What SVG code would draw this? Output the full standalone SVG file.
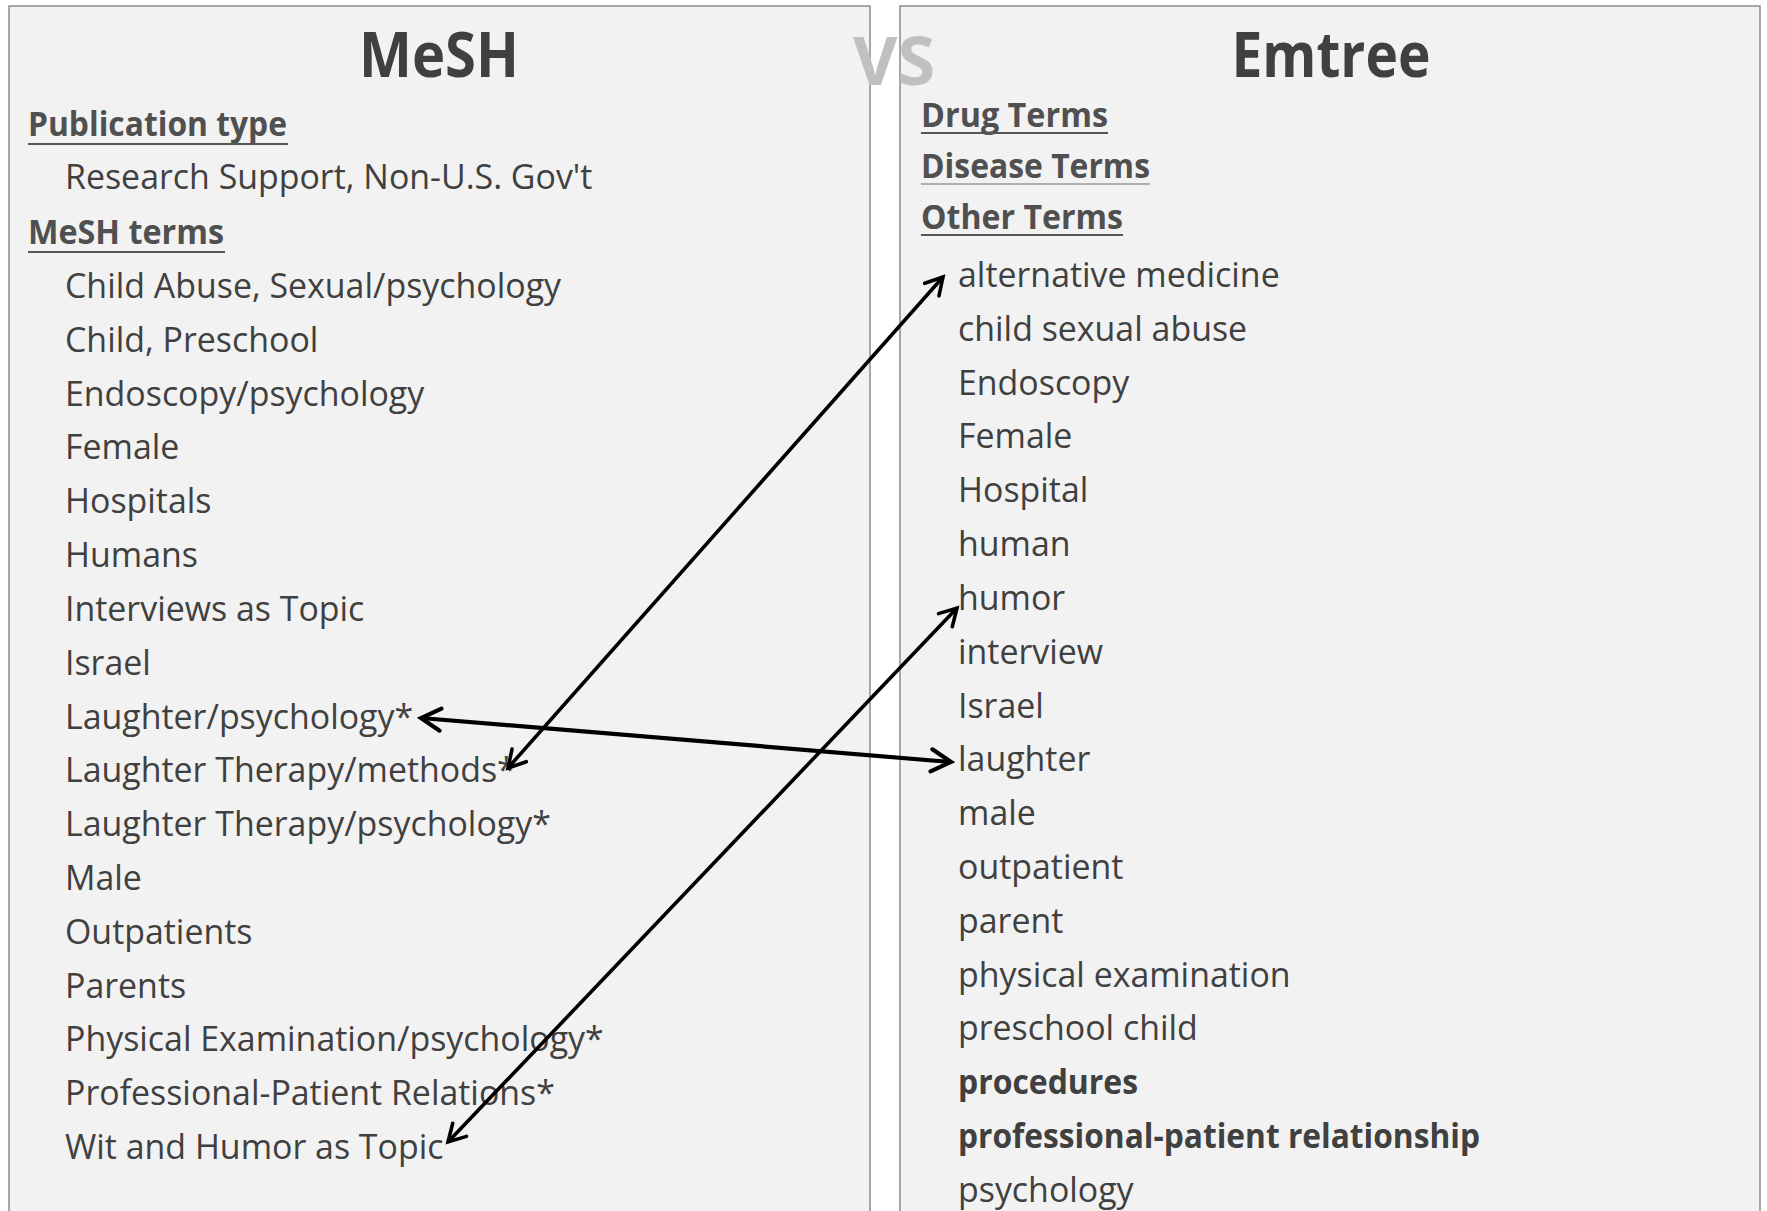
<svg xmlns="http://www.w3.org/2000/svg" width="1767" height="1211" viewBox="0 0 1767 1211">
<defs>
<style>
.panel{fill:#f2f2f2;stroke:#8c8c8c;stroke-width:1.5}
.title{font-family:"Open Sans","Liberation Sans",sans-serif;font-weight:700;font-size:62px;fill:#404040}
.vs{font-family:"Open Sans","Liberation Sans",sans-serif;font-weight:700;font-size:66px;fill:#c0c0c0}
.head{font-family:"Open Sans","Liberation Sans",sans-serif;font-weight:700;font-size:34px;fill:#505050}
.item{font-family:"Open Sans","Liberation Sans",sans-serif;font-size:33.9px;fill:#404040}
.bold{font-weight:700}
.ul{stroke:#555;stroke-width:2}
.conn{fill:none;stroke:#000;stroke-width:3.6;marker-start:url(#ah);marker-end:url(#ah)}
</style>
<marker id="ah" viewBox="0 0 12 12" refX="10" refY="6" markerWidth="6.6" markerHeight="6.6" markerUnits="strokeWidth" orient="auto-start-reverse">
<path d="M1.5,1.2 L10,6 L1.5,10.8" fill="none" stroke="#000" stroke-width="1.8" stroke-linecap="round" stroke-linejoin="miter"/>
</marker>
</defs>
<g id="mesh-panel">
<rect class="panel" x="9" y="6" width="861" height="1220"/>
<text class="title" x="439" y="77" text-anchor="middle" textLength="160" lengthAdjust="spacingAndGlyphs">MeSH</text>
<text class="head" x="28" y="136" textLength="259" lengthAdjust="spacingAndGlyphs">Publication type</text>
<line class="ul" x1="28" y1="144" x2="288" y2="144"/>
<text class="item" x="65" y="189">Research Support, Non-U.S. Gov't</text>
<text class="head" x="28" y="244" textLength="196" lengthAdjust="spacingAndGlyphs">MeSH terms</text>
<line class="ul" x1="28" y1="252" x2="225" y2="252"/>
<text class="item" x="65" y="298">Child Abuse, Sexual/psychology</text>
<text class="item" x="65" y="352">Child, Preschool</text>
<text class="item" x="65" y="406">Endoscopy/psychology</text>
<text class="item" x="65" y="459">Female</text>
<text class="item" x="65" y="513">Hospitals</text>
<text class="item" x="65" y="567">Humans</text>
<text class="item" x="65" y="621">Interviews as Topic</text>
<text class="item" x="65" y="675">Israel</text>
<text class="item" x="65" y="729">Laughter/psychology*</text>
<text class="item" x="65" y="782">Laughter Therapy/methods*</text>
<text class="item" x="65" y="836">Laughter Therapy/psychology*</text>
<text class="item" x="65" y="890">Male</text>
<text class="item" x="65" y="944">Outpatients</text>
<text class="item" x="65" y="998">Parents</text>
<text class="item" x="65" y="1051">Physical Examination/psychology*</text>
<text class="item" x="65" y="1105">Professional-Patient Relations*</text>
<text class="item" x="65" y="1159">Wit and Humor as Topic</text>
</g>
<g id="emtree-panel">
<rect class="panel" x="900" y="6" width="860" height="1220"/>
<text class="title" x="1331" y="77" text-anchor="middle" textLength="199" lengthAdjust="spacingAndGlyphs">Emtree</text>
<text class="head" x="921" y="127" textLength="187" lengthAdjust="spacingAndGlyphs">Drug Terms</text>
<line class="ul" x1="921" y1="133" x2="1108" y2="133"/>
<text class="head" x="921" y="178" textLength="229" lengthAdjust="spacingAndGlyphs">Disease Terms</text>
<line class="ul" x1="921" y1="184" x2="1150" y2="184" style="stroke:#b0b0b0"/>
<text class="head" x="921" y="229" textLength="202" lengthAdjust="spacingAndGlyphs">Other Terms</text>
<line class="ul" x1="921" y1="235" x2="1123" y2="235"/>
<text class="item" x="958" y="287">alternative medicine</text>
<text class="item" x="958" y="341">child sexual abuse</text>
<text class="item" x="958" y="395">Endoscopy</text>
<text class="item" x="958" y="448">Female</text>
<text class="item" x="958" y="502">Hospital</text>
<text class="item" x="958" y="556">human</text>
<text class="item" x="958" y="610">humor</text>
<text class="item" x="958" y="664">interview</text>
<text class="item" x="958" y="718">Israel</text>
<text class="item" x="958" y="771">laughter</text>
<text class="item" x="958" y="825">male</text>
<text class="item" x="958" y="879">outpatient</text>
<text class="item" x="958" y="933">parent</text>
<text class="item" x="958" y="987">physical examination</text>
<text class="item" x="958" y="1040">preschool child</text>
<text class="item bold" x="958" y="1094" textLength="180" lengthAdjust="spacingAndGlyphs">procedures</text>
<text class="item bold" x="958" y="1148" textLength="522" lengthAdjust="spacingAndGlyphs">professional-patient relationship</text>
<text class="item" x="958" y="1202">psychology</text>
</g>
<text id="vs" class="vs" x="853" y="85" textLength="82" lengthAdjust="spacingAndGlyphs">VS</text>
<g id="connectors">
<line class="conn" x1="943" y1="277" x2="508" y2="768"/>
<line class="conn" x1="421" y1="718" x2="951" y2="762" style="stroke-width:4.2"/>
<line class="conn" x1="957" y1="608" x2="448" y2="1142"/>
</g>
</svg>
